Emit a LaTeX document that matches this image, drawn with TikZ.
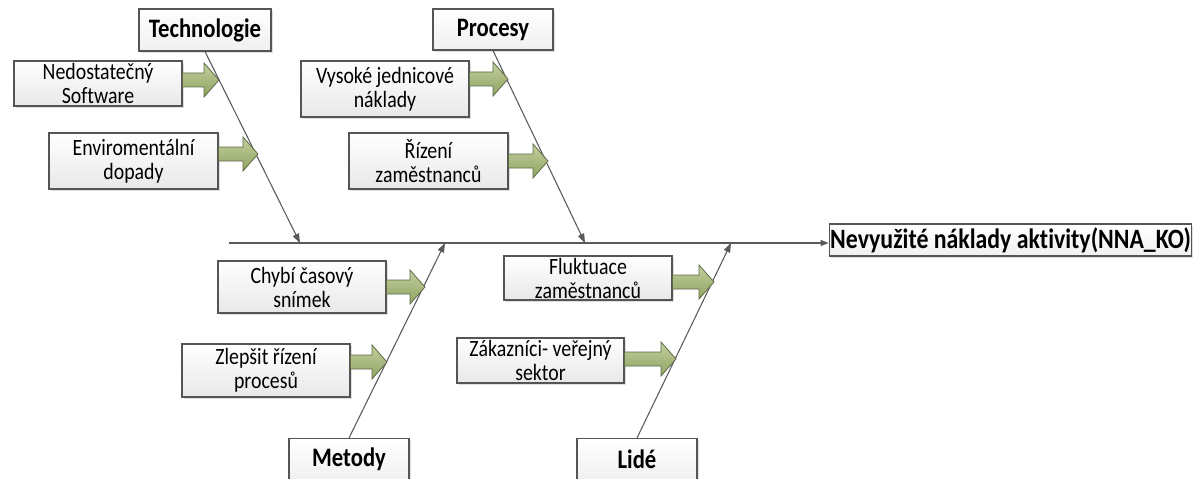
\documentclass[tikz,border=0pt]{standalone}
\usepackage{fontspec}
\setmainfont{Carlito}[FakeStretch=0.85,Ligatures=NoCommon]
\usetikzlibrary{arrows.meta,shadows,calc}
\definecolor{linegray}{HTML}{5A5A5A}
\definecolor{boxedge}{HTML}{555555}
\definecolor{gtop}{HTML}{C3CFA0}
\definecolor{gbot}{HTML}{8FA360}
\definecolor{gedge}{HTML}{5E6B45}
\tikzset{
  causebox/.style={draw=boxedge, line width=0.8pt, top color=white, bottom color=black!9,
    drop shadow={shadow xshift=1.2pt, shadow yshift=-1.2pt, fill=black!25},
    align=center, inner sep=1pt, font=\fontsize{17.5}{18}\selectfont},
  catbox/.style={draw=boxedge, line width=0.8pt, top color=white, bottom color=black!6,
    drop shadow={shadow xshift=1.2pt, shadow yshift=-1.2pt, fill=black!25},
    inner sep=1pt, font=\bfseries\fontsize{20}{22}\selectfont},
  bone/.style={draw=linegray, line width=0.8pt, -{Triangle[length=7pt,width=5pt]}},
  garrow/.style={draw=gedge, line width=0.6pt, top color=gtop, bottom color=gbot}
}
\newcommand\barrow[2]{%
  \path[garrow] let \p1=(#1), \p2=(#2) in
    (\x1,\y1+5.25pt) -- (\x2-11.25pt,\y1+5.25pt) -- (\x2-11.25pt,\y1+12.75pt) --
    (\x2,\y1) -- (\x2-11.25pt,\y1-12.75pt) -- (\x2-11.25pt,\y1-5.25pt) --
    (\x1,\y1-5.25pt) -- cycle;}
\begin{document}
\begin{tikzpicture}[x=0.75pt,y=-0.75pt]
\useasboundingbox (0,0) rectangle (1195,478);
% category boxes
\node[catbox, minimum width=99pt, minimum height=31.5pt] (tech) at (205,30) {Technologie};
\node[catbox, minimum width=90pt, minimum height=30.75pt] (proc) at (493,29.5) {Procesy};
\node[catbox, minimum width=90pt, minimum height=31.5pt] (met) at (349,459.5) {Metody};
\node[catbox, minimum width=90pt, minimum height=31.5pt] (lid) at (637,459.5) {Lidé};
\node[catbox, minimum width=272pt, minimum height=24pt, inner sep=0pt, font=\bfseries\fontsize{21}{22}\selectfont] (res) at (1010.5,240) {Nevyužité náklady aktivity(NNA\_KO)};
% spine
\coordinate (s0) at (229,243);
\coordinate (sT) at (300,243);
\coordinate (sP) at (585,243);
\coordinate (sM) at (445,243);
\coordinate (sL) at (731,243);
\draw[draw=linegray, line width=0.8pt, -{Triangle[length=6pt,width=4.5pt]}] (s0) -- (res.west |- s0);
\draw[bone] (tech.south) -- (sT);
\draw[bone] (proc.south) -- (sP);
\draw[bone] (met.north) -- (sM);
\draw[bone] (lid.north) -- (sL);
% cause boxes
\node[causebox, minimum width=126pt, minimum height=33.75pt] (a) at (98,83.5) {Nedostatečný\\Software};
\node[causebox, minimum width=126.75pt, minimum height=42pt] (b) at (133.5,161) {Enviromentální\\dopady};
\node[causebox, minimum width=126pt, minimum height=42pt] (c) at (385,89) {Vysoké jednicové\\náklady};
\node[causebox, minimum width=119.25pt, minimum height=42pt] (d) at (428.5,161) {Řízení\\zaměstnanců};
\node[causebox, minimum width=126pt, minimum height=39pt] (e) at (302,287) {Chybí časový\\snímek};
\node[causebox, minimum width=126pt, minimum height=39.75pt] (f) at (266,370.5) {Zlepšit řízení\\procesů};
\node[causebox, minimum width=126pt, minimum height=33pt] (g) at (588,278) {Fluktuace\\zaměstnanců};
\node[causebox, minimum width=125.25pt, minimum height=33.75pt] (h) at (540.5,360.5) {Zákazníci- veřejný\\sektor};
% arrow tips on bones
\coordinate (ta) at (219,80);
\coordinate (tb) at (258,154);
\coordinate (tc) at (508,79);
\coordinate (td) at (548,161);
\coordinate (te) at (425,287);
\coordinate (tf) at (387,362);
\coordinate (tg) at (714,282);
\coordinate (th) at (676,359);
\barrow{a.east |- ta}{ta}
\barrow{b.east |- tb}{tb}
\barrow{c.east |- tc}{tc}
\barrow{d.east |- td}{td}
\barrow{e.east |- te}{te}
\barrow{f.east |- tf}{tf}
\barrow{g.east |- tg}{tg}
\barrow{h.east |- th}{th}
\end{tikzpicture}
\end{document}
